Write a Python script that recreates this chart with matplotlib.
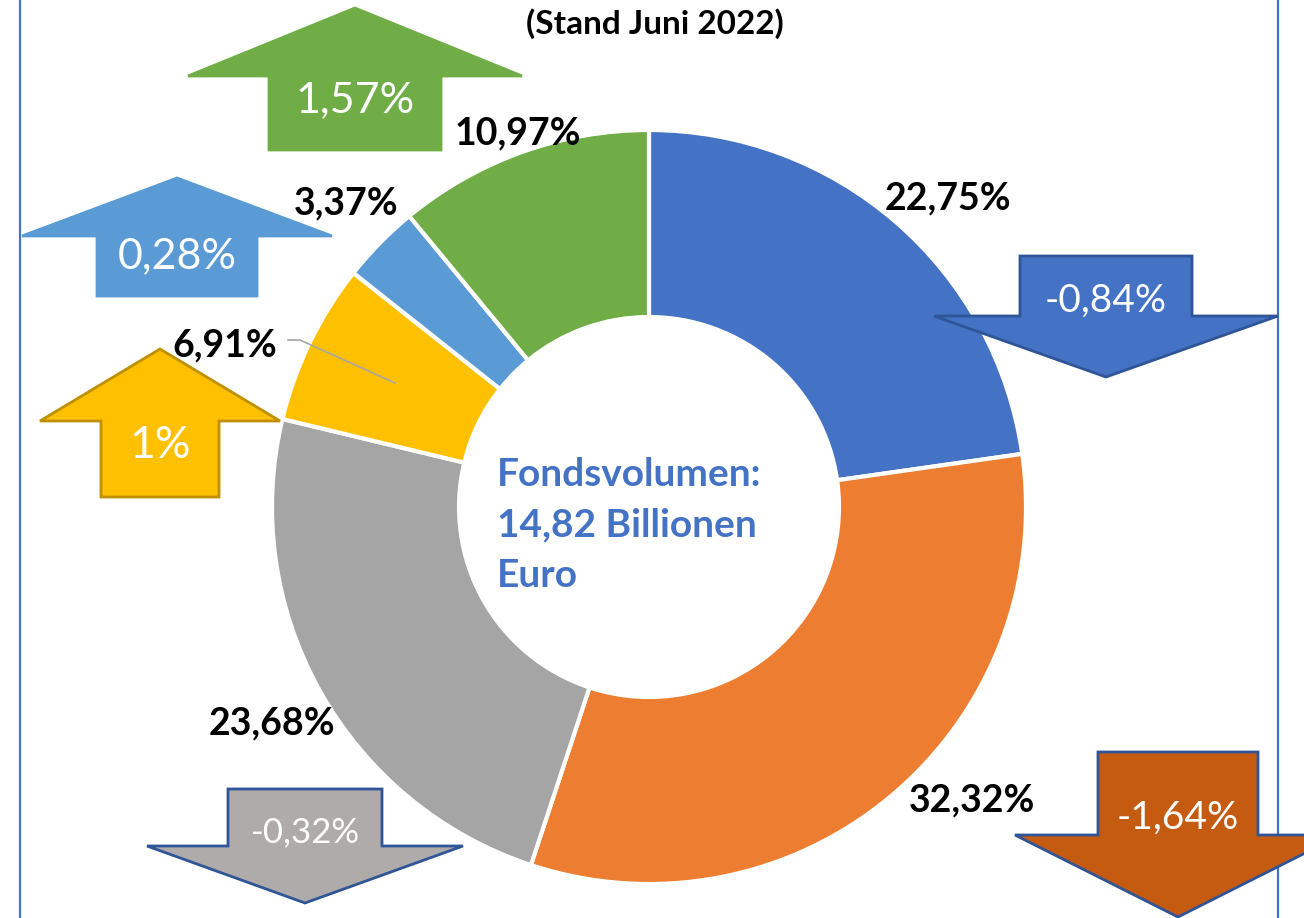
import matplotlib.pyplot as plt
from matplotlib.patches import Polygon

# Anteile am Fondsvolumen (Stand Juni 2022), im Uhrzeigersinn ab 12 Uhr
anteile = [22.75, 32.32, 23.68, 6.91, 3.37, 10.97]
anteil_labels = ["22,75%", "32,32%", "23,68%", "6,91%", "3,37%", "10,97%"]
farben = ["#4472C4", "#ED7D31", "#A5A5A5", "#FFC000", "#5B9BD5", "#70AD47"]

# Veränderung gegenüber Vorperiode (Pfeile)
veraenderung = [-0.84, -1.64, -0.32, 1.0, 0.28, 1.57]
veraenderung_labels = ["-0,84%", "-1,64%", "-0,32%", "1%", "0,28%", "1,57%"]

W, H = 1304, 918
plt.rcParams['font.family'] = ['Lato', 'DejaVu Sans']

fig = plt.figure(figsize=(W / 100, H / 100), dpi=100)
ax = fig.add_axes([0, 0, 1, 1])


def py(y):
    # Pixel-y (von oben) -> Achsen-y
    return H - y


# Donut
cx, cy, r = 649, py(507), 377
ax.pie(anteile, colors=farben, startangle=90, counterclock=False,
       center=(cx, cy), radius=r,
       wedgeprops=dict(width=r - 190, edgecolor="white", linewidth=3))

# Anteils-Beschriftungen (Position je Segment)
label_pos = [(948, 198), (972, 800), (272, 723), (225, 345), (346, 203), (518, 133)]
for (x, y), txt in zip(label_pos, anteil_labels):
    ax.text(x, py(y), txt, ha="center", va="center", fontsize=27,
            fontweight="bold", color="black", zorder=6)
# Führungslinie 6,91%
ax.plot([288, 300, 395], [py(340), py(340), py(383)], color="#A6A6A6", lw=1.2, zorder=6)

# Text in der Mitte
ax.text(497, py(525), "Fondsvolumen:\n14,82 Billionen\nEuro", ha="left", va="center",
        fontsize=28, fontweight="bold", color="#4472C4", linespacing=1.55, zorder=6)

# Titel (abgeschnitten)
ax.text(655, py(24), "(Stand Juni 2022)", ha="center", va="center",
        fontsize=24, fontweight="bold", color="black")

# Rahmenlinien
ax.plot([20, 20], [0, H], color="#4472C4", lw=1.6, zorder=1)
ax.plot([1278, 1278], [0, H], color="#4472C4", lw=1.6, zorder=1)

# Pfeile: (mitte x, spitze y, kopf y, ende y, kopf halbe breite, schaft halbe breite)
pfeil_geo = [
    (1106, 377, 316, 256, 172, 86),   # blau, runter
    (1178, 917, 835, 752, 163, 80),   # orange, runter
    (305, 903, 846, 789, 158, 77),    # grau, runter
    (160, 349, 421, 497, 120, 59),    # gelb, hoch
    (177, 178, 236, 296, 155, 80),    # hellblau, hoch
    (355, 8, 76, 150, 167, 86),       # grün, hoch
]
pfeil_text_y = [301, 818, 832, 445, 256, 100]
pfeil_farben = ["#4472C4", "#C55A11", "#AFABAB", "#FFC000", "#5B9BD5", "#70AD47"]
pfeil_rand = ["#2F5597", "#2F5597", "#2F5597", "#BF9000", "#5B9BD5", "#70AD47"]
pfeil_fs = [28, 28, 25, 32, 31, 31]

for (x, tip, head, end, hh, sh), ty, txt, fc, ec, fs in zip(
        pfeil_geo, pfeil_text_y, veraenderung_labels, pfeil_farben, pfeil_rand, pfeil_fs):
    pts = [(x, tip), (x + hh, head), (x + sh, head), (x + sh, end),
           (x - sh, end), (x - sh, head), (x - hh, head)]
    pts = [(a, py(b)) for a, b in pts]
    ax.add_patch(Polygon(pts, closed=True, facecolor=fc, edgecolor=ec, lw=2, zorder=5))
    ax.text(x, py(ty), txt, ha="center", va="center", color="white", fontsize=fs, zorder=7)

ax.set_xlim(0, W)
ax.set_ylim(0, H)
ax.set_aspect("auto")
ax.axis("off")

fig.savefig("out.png", dpi=100, facecolor="white")
